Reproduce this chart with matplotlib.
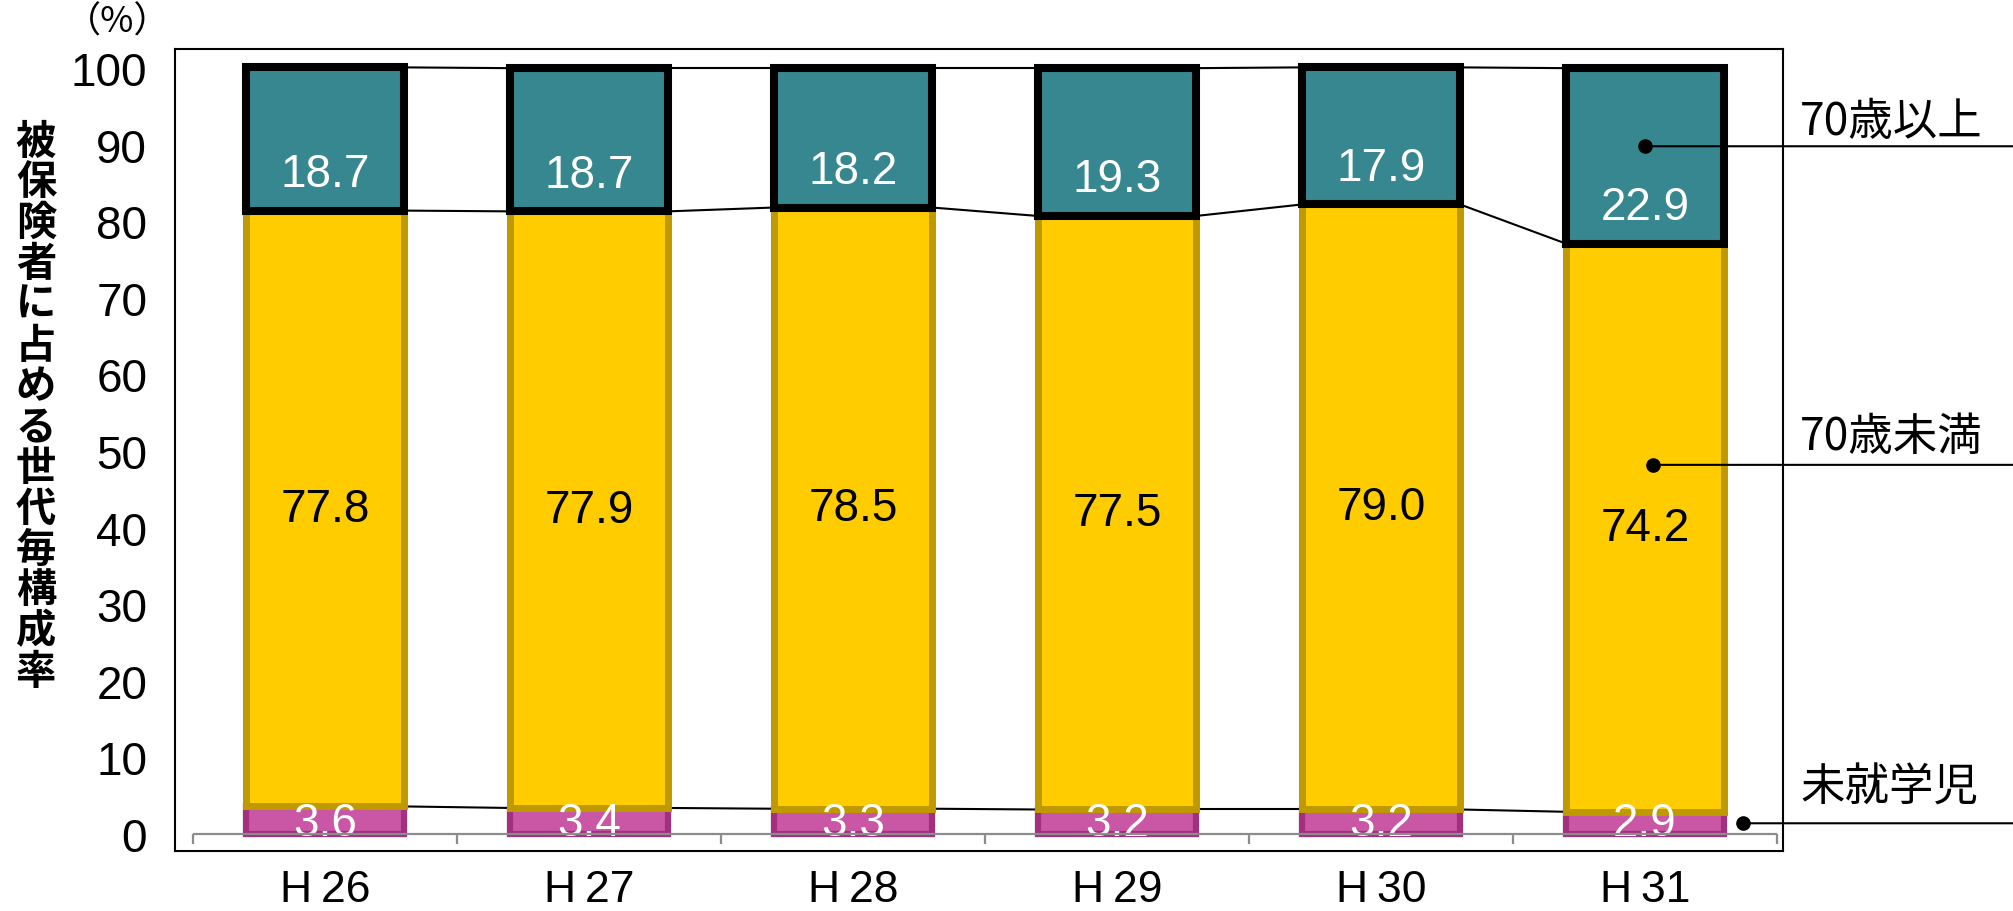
import matplotlib
matplotlib.use("Agg")
import matplotlib.pyplot as plt
import matplotlib.transforms as mtransforms
import numpy as np

# data (%)
years = ["H\u200926", "H\u200927", "H\u200928", "H\u200929", "H\u200930", "H\u200931"]
preschool = [3.6, 3.4, 3.3, 3.2, 3.2, 2.9]
under70 = [77.8, 77.9, 78.5, 77.5, 79.0, 74.2]
over70 = [18.7, 18.7, 18.2, 19.3, 17.9, 22.9]
series_names = ["未就学児", "70歳未満", "70歳以上"]
ylabel = "被保険者に占める世代毎構成率"

JP = ["Noto Sans CJK JP", "DejaVu Sans"]
NUM = ["Liberation Sans", "DejaVu Sans"]

PINK, PINK_EDGE = "#C957A6", "#A3307F"
YEL, GOLD = "#FFCC00", "#BF9900"
TEAL = "#368790"

W, H = 2013, 912
fig = plt.figure(figsize=(W / 100, H / 100), dpi=100)
ax = fig.add_axes([175 / W, 60 / H, 1608 / W, 802 / H])
ax.set_xlim(-0.568, 5.523)
ax.set_ylim(-2.22, 102.5)

x = np.arange(len(years))
bw = 0.6
p = np.array(preschool)
u = np.array(under70)
o = np.array(over70)
c1 = p
c2 = p + u
c3 = p + u + o

ax.bar(x, p, bw, color=PINK, edgecolor=PINK_EDGE, linewidth=4.5, zorder=2)
ax.bar(x, u, bw, bottom=c1, color=YEL, edgecolor=GOLD, linewidth=5, zorder=3)
ax.bar(x, o, bw, bottom=c2, color=TEAL, edgecolor="black", linewidth=5.8, zorder=4)

# series lines between bars
for cum in (c1, c2, c3):
    for i in range(len(x) - 1):
        ax.plot([x[i] + bw / 2, x[i + 1] - bw / 2], [cum[i], cum[i + 1]],
                color="black", lw=1.5, zorder=1.5)

# value labels
for i in x:
    ax.text(i, 1.5, f"{p[i]:.1f}", ha="center", va="center", color="white",
            fontsize=33, family=NUM, zorder=5)
    ax.text(i, c1[i] + u[i] / 2, f"{u[i]:.1f}", ha="center", va="center",
            color="black", fontsize=33, family=NUM, zorder=5)
    ax.text(i, c2[i] + 4.8, f"{o[i]:.1f}", ha="center", va="center",
            color="white", fontsize=33, family=NUM, zorder=5)

# grey category axis with boundary ticks
ax.hlines(0, -0.5, len(x) - 0.5, color="#8C8C8C", lw=1.6, zorder=6)
ax.vlines(np.arange(-0.5, len(x), 1), -1.3, 0, color="#8C8C8C", lw=1.6, zorder=6)

ax.set_yticks(range(0, 101, 10))
ax.set_xticks(x)
ax.set_xticklabels(years)
ax.tick_params(axis="y", length=0, pad=20, labelsize=33)
ax.tick_params(axis="x", length=0, pad=13, labelsize=32)
for lab in ax.get_yticklabels() + ax.get_xticklabels():
    lab.set_fontfamily(NUM)
for sp in ax.spines.values():
    sp.set_color("black")
    sp.set_linewidth(1.5)

# vertical axis title, one character per row
pitch = 40.8
for k, ch in enumerate(ylabel):
    fig.text(36 / W, 1 - (142 + k * pitch) / H, ch, ha="center", va="center",
             fontsize=29, fontweight="bold", family=JP)
fig.text(118 / W, 1 - 23 / H, "（%）", ha="center", va="center",
         fontsize=26, family=JP)

# right-hand series labels with leader lines
trans = mtransforms.blended_transform_factory(fig.transFigure, ax.transData)
legend_items = [
    (series_names[2], 5.0, 89.8, 122),
    (series_names[1], 5.03, 48.2, 437),
    (series_names[0], 5.37, 1.4, 788),
]
for name, xd, yd, ty in legend_items:
    ax.plot(xd, yd, "o", color="black", ms=9.5, zorder=7, clip_on=False)
    ax.annotate("", xy=(xd, yd), xytext=(1.0, yd), textcoords=trans,
                arrowprops=dict(arrowstyle="-", lw=1.5, color="black",
                                shrinkA=0, shrinkB=0),
                annotation_clip=False, zorder=7)
    fig.text(1800 / W, 1 - ty / H, name, ha="left", va="center",
             fontsize=32, family=JP)

fig.savefig("out.png", dpi=100)
